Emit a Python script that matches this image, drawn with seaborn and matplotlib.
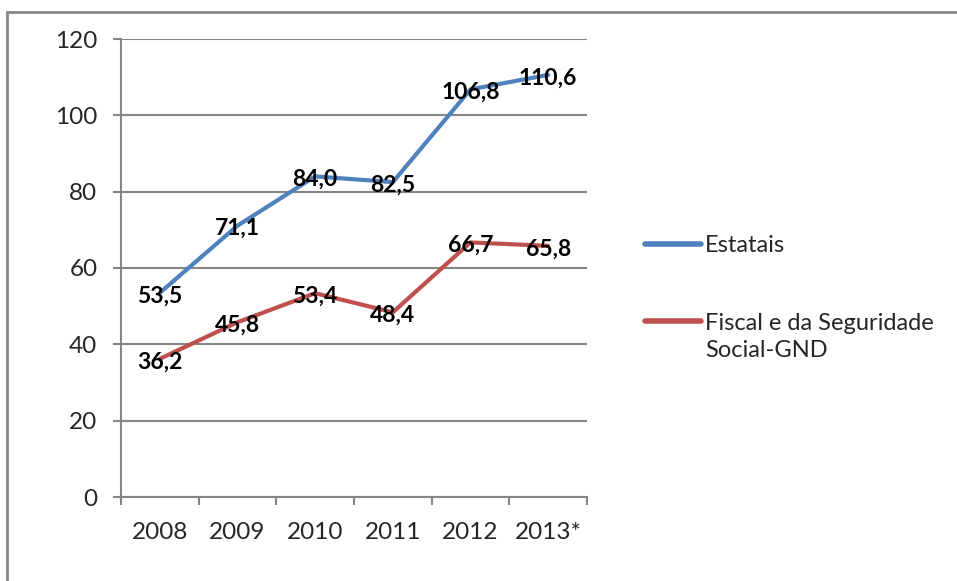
import matplotlib
matplotlib.use("Agg")
import matplotlib.pyplot as plt
import matplotlib.patches as patches
from matplotlib.legend_handler import HandlerLine2D
import seaborn as sns
import pandas as pd

# dados
anos = ["2008", "2009", "2010", "2011", "2012", "2013*"]
estatais = [53.5, 71.1, 84.0, 82.5, 106.8, 110.6]
fiscal = [36.2, 45.8, 53.4, 48.4, 66.7, 65.8]
series = ["Estatais", "Fiscal e da Seguridade\nSocial-GND"]
cores = ["#4F81BD", "#C0504D"]

df = pd.DataFrame({
    "pos": list(range(len(anos))) * 2,
    "valor": estatais + fiscal,
    "serie": [series[0]] * len(anos) + [series[1]] * len(anos),
})

sns.set_style("white")
plt.rcParams["font.family"] = ["Lato", "DejaVu Sans"]


class HandlerTopLine(HandlerLine2D):
    # alinha a linha da legenda com a primeira linha do texto
    def create_artists(self, legend, orig_handle, xdescent, ydescent,
                       width, height, fontsize, trans):
        shift = 0.68 * fontsize * (orig_handle.get_label().count("\n"))
        return super().create_artists(legend, orig_handle, xdescent,
                                      ydescent - 2 * shift, width, height,
                                      fontsize, trans)


W, H = 957, 581
fig = plt.figure(figsize=(W / 100, H / 100), dpi=100)
ax = fig.add_axes([121 / W, 1 - 497 / H, (587 - 121) / W, (497 - 39) / H])

sns.lineplot(data=df, x="pos", y="valor", hue="serie", palette=cores,
             linewidth=3, ax=ax, legend=True)

# rótulos de dados
for vals in (estatais, fiscal):
    for i, v in enumerate(vals):
        ax.text(i, v - 0.8, f"{v:.1f}".replace(".", ","), ha="center", va="center",
                fontsize=16.5, fontweight="bold", color="black", zorder=5)

grid_c = "#868686"
ax.set_ylim(0, 120)
ax.set_yticks(range(0, 121, 20))
ax.set_xlim(-0.5, len(anos) - 0.5)
ax.set_xticks(range(len(anos)))
ax.set_xticklabels(anos)
ax.set_xticks([i - 0.5 for i in range(len(anos) + 1)], minor=True)
ax.yaxis.grid(True, color=grid_c, linewidth=1.5)
ax.set_axisbelow(True)
ax.set_xlabel("")
ax.set_ylabel("")
for s in ["top", "right"]:
    ax.spines[s].set_visible(False)
for s in ["left", "bottom"]:
    ax.spines[s].set_color(grid_c)
    ax.spines[s].set_linewidth(1.5)
ax.tick_params(axis="y", which="major", length=6, width=1.5, color=grid_c,
               pad=11, labelsize=17.5, direction="out", left=True)
ax.tick_params(axis="x", which="major", length=0, pad=18, labelsize=17.5)
ax.tick_params(axis="x", which="minor", length=6, width=1.5, color=grid_c,
               direction="out", bottom=True)

handles, labels = ax.get_legend_handles_labels()
leg = ax.legend(handles, labels, loc="upper left",
                bbox_to_anchor=(636 / W, 1 - 226 / H),
                bbox_transform=fig.transFigure, frameon=False, fontsize=17,
                handlelength=2.35, handletextpad=0.17, labelspacing=2.4,
                borderaxespad=0, handler_map={h: HandlerTopLine() for h in handles})
for line in leg.get_lines():
    line.set_linewidth(4)
for t in leg.get_texts():
    t.set_linespacing(1.35)

# moldura
fig.patches.append(patches.Rectangle((7 / W, -0.1), 1.0, 1.1 - 12 / H,
                                     transform=fig.transFigure, fill=False,
                                     edgecolor=grid_c, linewidth=2))

fig.savefig("out.png", dpi=100)
